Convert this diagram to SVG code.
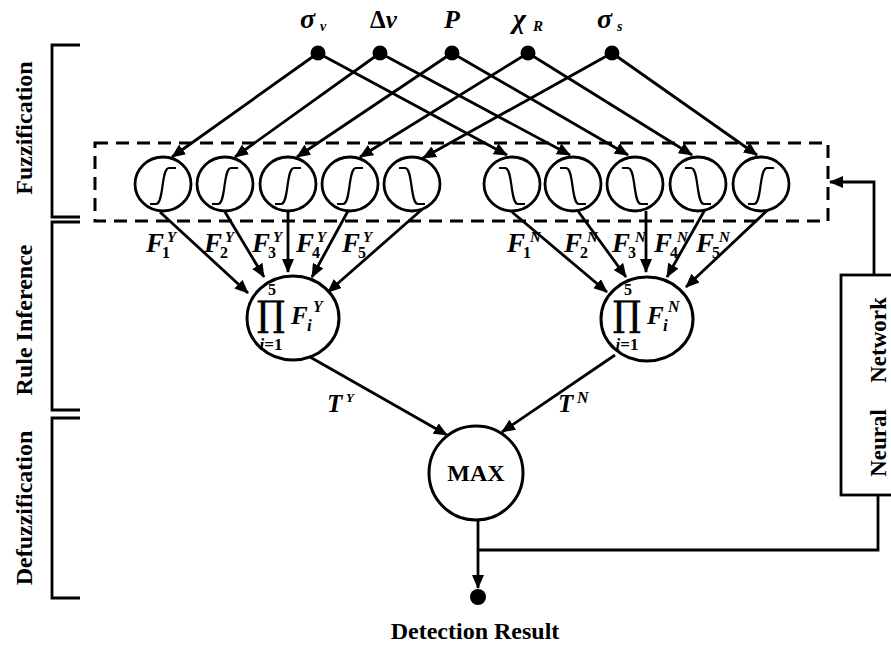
<svg xmlns="http://www.w3.org/2000/svg" xmlns:xlink="http://www.w3.org/1999/xlink" width="891" height="645" viewBox="0 0 891 645">
<style>
.ln{stroke:#000;stroke-width:2.8;fill:none}
.ar{stroke:#000;stroke-width:2.8;fill:none;marker-end:url(#ah)}
.c{fill:#fff;stroke:#000;stroke-width:3}
.mf{fill:#fff;stroke:#000;stroke-width:2.8}
.cv{fill:none;stroke:#000;stroke-width:2.2}
.dot{fill:#000}
.t{font-family:"Liberation Serif","Times New Roman",serif;font-weight:bold;fill:#000}
.m{font-family:"Liberation Serif","Times New Roman",serif;font-weight:bold;font-style:italic;fill:#000}
.pi{font-family:"DejaVu Serif",serif;font-weight:normal;fill:#000;stroke:#000;stroke-width:0.6}
.up{font-style:normal}
</style>
<defs>
<marker id="ah" viewBox="0 0 14 12" refX="13" refY="6" markerWidth="14" markerHeight="12" markerUnits="userSpaceOnUse" orient="auto">
<path d="M0,0 L14,6 L0,12 z" fill="#000"/>
</marker>
<path id="rise" d="M-13,20 H-7 C1,20 -2,-16 6,-16 H13" class="cv"/>
<path id="fall" d="M-13,-16 H-7 C1,-16 -2,20 6,20 H13" class="cv"/>
</defs>

<!-- stage brackets -->
<g id="stages">
<path class="ln" d="M80,45 H52 V217 H80" stroke-width="1.8"/>
<path class="ln" d="M80,222 H52 V410 H80" stroke-width="1.8"/>
<path class="ln" d="M80,418 H52 V598 H80" stroke-width="1.8"/>
<text class="t" font-size="24" text-anchor="middle" transform="translate(32,128) rotate(-90)">Fuzzification</text>
<text class="t" font-size="24" text-anchor="middle" transform="translate(32,320) rotate(-90)">Rule Inference</text>
<text class="t" font-size="24" text-anchor="middle" transform="translate(32,508) rotate(-90)">Defuzzification</text>
</g>

<!-- fuzzification dashed box -->
<rect id="fuzzy-box" x="95" y="143" width="733" height="78" fill="none" stroke="#000" stroke-width="3" stroke-dasharray="13 8"/>

<g id="connectors">
<path class="ar" d="M318,53 L172,157"/>
<path class="ar" d="M318,53 L507,155"/>
<path class="ar" d="M380,53 L235,157"/>
<path class="ar" d="M380,53 L570,155"/>
<path class="ar" d="M452,53 L297,157"/>
<path class="ar" d="M452,53 L628,155"/>
<path class="ar" d="M528,53 L360,157"/>
<path class="ar" d="M528,53 L692,155"/>
<path class="ar" d="M612,53 L423,158"/>
<path class="ar" d="M612,53 L757,155"/>

<path class="ar" d="M160,212 L248,293"/>
<path class="ar" d="M225,212 L264,277"/>
<path class="ar" d="M288,212 L288,272"/>
<path class="ar" d="M348,211 L312,277"/>
<path class="ar" d="M427,205 L328,292"/>
<path class="ar" d="M512,212 L607,292"/>
<path class="ar" d="M578,211 L626,277"/>
<path class="ar" d="M646,211 L646,272"/>
<path class="ar" d="M707,206 L667,277"/>
<path class="ar" d="M773,205 L686,287"/>

<path class="ar" d="M310,357 L447,435"/>
<path class="ar" d="M615,355 L502,432"/>

<path class="ar" d="M478,520 L478,588"/>
<path class="ln" d="M478,550 H878 V495"/>
<path class="ar" d="M874,275 V182 H830"/>
</g>

<!-- inputs -->
<g id="in-sigma-v"><circle class="dot" cx="318" cy="53" r="7.5"/>
<text class="m" x="300" y="28" font-size="28">σ</text><text class="m" x="320" y="31" font-size="14">v</text></g>
<g id="in-delta-v"><circle class="dot" cx="380" cy="53" r="7.5"/>
<text class="m" x="370" y="28" font-size="25"><tspan class="up">Δ</tspan>v</text></g>
<g id="in-P"><circle class="dot" cx="452" cy="53" r="7.5"/>
<text class="m" x="444" y="28" font-size="26">P</text></g>
<g id="in-chi-R"><circle class="dot" cx="528" cy="53" r="7.5"/>
<text class="m" x="513" y="28" font-size="28">χ</text><text class="m" x="533" y="31" font-size="15">R</text></g>
<g id="in-sigma-s"><circle class="dot" cx="612" cy="53" r="7.5"/>
<text class="m" x="597" y="28" font-size="28">σ</text><text class="m" x="617" y="31" font-size="14">s</text></g>

<!-- membership function nodes -->
<g id="mf-y1"><ellipse class="mf" cx="163" cy="184" rx="28" ry="27"/><use href="#rise" x="163" y="184"/></g>
<g id="mf-y2"><ellipse class="mf" cx="225" cy="184" rx="28" ry="27"/><use href="#rise" x="225" y="184"/></g>
<g id="mf-y3"><ellipse class="mf" cx="288" cy="184" rx="28" ry="27"/><use href="#rise" x="288" y="184"/></g>
<g id="mf-y4"><ellipse class="mf" cx="350" cy="184" rx="28" ry="27"/><use href="#rise" x="350" y="184"/></g>
<g id="mf-y5"><ellipse class="mf" cx="412" cy="184" rx="28" ry="27"/><use href="#fall" x="412" y="184"/></g>
<g id="mf-n1"><ellipse class="mf" cx="512" cy="184" rx="28" ry="27"/><use href="#fall" x="512" y="184"/></g>
<g id="mf-n2"><ellipse class="mf" cx="573" cy="184" rx="28" ry="27"/><use href="#fall" x="573" y="184"/></g>
<g id="mf-n3"><ellipse class="mf" cx="635" cy="184" rx="28" ry="27"/><use href="#fall" x="635" y="184"/></g>
<g id="mf-n4"><ellipse class="mf" cx="698" cy="184" rx="28" ry="27"/><use href="#fall" x="698" y="184"/></g>
<g id="mf-n5"><ellipse class="mf" cx="761" cy="184" rx="28" ry="27"/><use href="#rise" x="761" y="184"/></g>

<!-- F labels -->
<g id="labels-FY">
<text class="m" x="146" y="252" font-size="27">F</text><text class="t" x="162" y="258" font-size="16">1</text><text class="m" x="167" y="242" font-size="15">Y</text>
<text class="m" x="204" y="252" font-size="27">F</text><text class="t" x="220" y="258" font-size="16">2</text><text class="m" x="225" y="242" font-size="15">Y</text>
<text class="m" x="252" y="252" font-size="27">F</text><text class="t" x="268" y="258" font-size="16">3</text><text class="m" x="273" y="242" font-size="15">Y</text>
<text class="m" x="296" y="252" font-size="27">F</text><text class="t" x="312" y="258" font-size="16">4</text><text class="m" x="317" y="242" font-size="15">Y</text>
<text class="m" x="342" y="252" font-size="27">F</text><text class="t" x="358" y="258" font-size="16">5</text><text class="m" x="363" y="242" font-size="15">Y</text>
</g>
<g id="labels-FN">
<text class="m" x="507" y="252" font-size="27">F</text><text class="t" x="523" y="258" font-size="16">1</text><text class="m" x="530" y="242" font-size="15">N</text>
<text class="m" x="564" y="252" font-size="27">F</text><text class="t" x="580" y="258" font-size="16">2</text><text class="m" x="587" y="242" font-size="15">N</text>
<text class="m" x="612" y="252" font-size="27">F</text><text class="t" x="628" y="258" font-size="16">3</text><text class="m" x="635" y="242" font-size="15">N</text>
<text class="m" x="654" y="252" font-size="27">F</text><text class="t" x="670" y="258" font-size="16">4</text><text class="m" x="677" y="242" font-size="15">N</text>
<text class="m" x="696" y="252" font-size="27">F</text><text class="t" x="712" y="258" font-size="16">5</text><text class="m" x="719" y="242" font-size="15">N</text>
</g>

<!-- product nodes -->
<g id="prod-Y">
<ellipse class="c" cx="293" cy="318" rx="46" ry="42"/>
<text class="t" x="272" y="295" font-size="16" text-anchor="middle">5</text>
<text class="pi" x="271" y="326" font-size="35" text-anchor="middle">∏</text>
<text class="t" x="271" y="350" font-size="17" text-anchor="middle"><tspan font-style="italic">i</tspan>=1</text>
<text class="m" x="291" y="324" font-size="25">F</text><text class="m" x="307" y="331" font-size="17">i</text><text class="m" x="313" y="312" font-size="16">Y</text>
</g>
<g id="prod-N">
<ellipse class="c" cx="647" cy="319" rx="46" ry="42"/>
<text class="t" x="628" y="295" font-size="16" text-anchor="middle">5</text>
<text class="pi" x="627" y="326" font-size="35" text-anchor="middle">∏</text>
<text class="t" x="627" y="350" font-size="17" text-anchor="middle"><tspan font-style="italic">i</tspan>=1</text>
<text class="m" x="647" y="324" font-size="25">F</text><text class="m" x="663" y="331" font-size="17">i</text><text class="m" x="668" y="312" font-size="16">N</text>
</g>

<!-- T labels -->
<g id="labels-T">
<text class="m" x="327" y="412" font-size="25">T</text><text class="m" x="346" y="402" font-size="13">Y</text>
<text class="m" x="558" y="412" font-size="25">T</text><text class="m" x="577" y="403" font-size="16">N</text>
</g>

<!-- MAX -->
<g id="max"><circle class="c" cx="476" cy="473" r="47"/>
<text class="t" x="476" y="481" font-size="24" text-anchor="middle">MAX</text></g>

<!-- Neural network -->
<g id="neural-network">
<rect x="841" y="275" width="60" height="220" fill="none" stroke="#000" stroke-width="2.8"/>
<text class="t" font-size="23" text-anchor="middle" transform="translate(886,340) rotate(-90)">Network</text>
<text class="t" font-size="23" text-anchor="middle" transform="translate(886,443) rotate(-90)">Neural</text>
</g>

<!-- output -->
<g id="output"><circle class="dot" cx="478" cy="597" r="8"/>
<text class="t" x="475" y="639" font-size="24" text-anchor="middle">Detection Result</text></g>
</svg>
